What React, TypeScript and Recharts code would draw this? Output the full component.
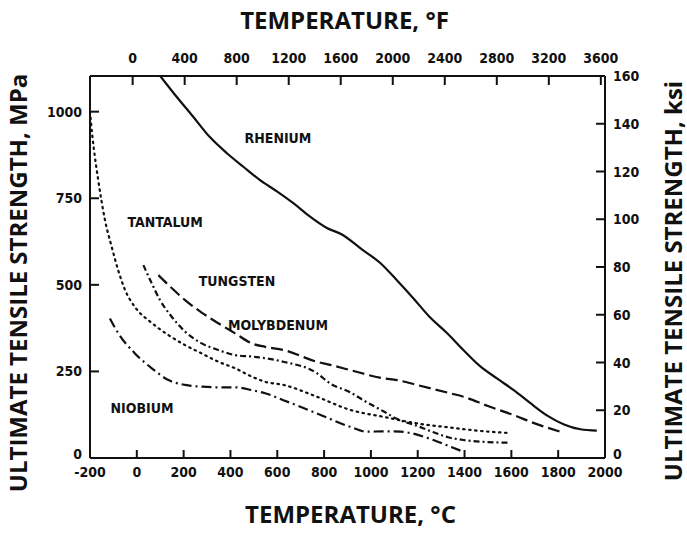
import React from 'react'
import { LineChart, Line, XAxis, YAxis, Label, ReferenceDot } from 'recharts'

// axis ticks
const tempTicksC = [-200, 0, 200, 400, 600, 800, 1000, 1200, 1400, 1600, 1800, 2000]
const tempTicksF = [0, 400, 800, 1200, 1600, 2000, 2400, 2800, 3200, 3600]
const mpaTicks = [0, 250, 500, 750, 1000]
const ksiTicks = [0, 20, 40, 60, 80, 100, 120, 140, 160]

// curves: temperature (°C) and strength (MPa)
const rheniumC = [100, 170, 240, 310, 385, 455, 525, 600, 670, 740, 810, 880, 960, 1040, 1110, 1180, 1250, 1325, 1395, 1465, 1540, 1610, 1680, 1750, 1825, 1895, 1965]
const rheniumMPa = [1103, 1043, 986, 928, 880, 841, 803, 769, 735, 697, 665, 644, 603, 563, 514, 462, 408, 361, 312, 266, 229, 196, 159, 124, 97, 83, 79]

const tantalumC = [-200, -190, -179, -165, -136, -107, -80, -50, -8, 64, 135, 206, 277, 348, 420, 491, 548, 626, 769, 911, 1053, 1196, 1338, 1470, 1595]
const tantalumMPa = [1000, 930, 869, 803, 687, 609, 543, 485, 436, 390, 355, 326, 302, 278, 259, 235, 220, 211, 177, 139, 119, 100, 88, 78, 72]

const tungstenC = [92, 150, 206, 277, 348, 420, 491, 548, 626, 769, 826, 911, 1053, 1111, 1196, 1338, 1395, 1500, 1609, 1700, 1808]
const tungstenMPa = [528, 490, 456, 420, 389, 360, 331, 321, 312, 278, 269, 254, 230, 225, 211, 187, 177, 150, 124, 100, 76]

const molybdenumC = [28, 64, 99, 149, 206, 277, 348, 420, 491, 548, 626, 769, 826, 911, 967, 1053, 1111, 1200, 1253, 1330, 1395, 1500, 1595]
const molybdenumMPa = [557, 504, 456, 408, 365, 331, 312, 297, 293, 288, 278, 245, 215, 190, 167, 135, 113, 92, 78, 60, 52, 46, 44]

const niobiumC = [-115, -79, -8, 64, 135, 206, 277, 348, 420, 491, 548, 626, 769, 911, 982, 1050, 1125, 1267, 1338, 1395]
const niobiumMPa = [403, 360, 302, 259, 225, 211, 206, 204, 204, 196, 187, 167, 129, 90, 76, 77, 76, 52, 33, 18]

const curveLabels = [
  { name: 'RHENIUM', c: 603, mpa: 924 },
  { name: 'TANTALUM', c: 121, mpa: 681 },
  { name: 'TUNGSTEN', c: 428, mpa: 511 },
  { name: 'MOLYBDENUM', c: 603, mpa: 384 },
  { name: 'NIOBIUM', c: 22, mpa: 144 },
]

const toPoints = (cs: number[], ms: number[]) => cs.map((c, i) => ({ c, mpa: ms[i] }))
const fToC = (f: number) => ((f - 32) * 5) / 9
const cToF = (c: number) => Math.round((c * 9) / 5 + 32)

const INK = '#111'
const tickFont = {
  fontFamily: "'DejaVu Sans Condensed', 'DejaVu Sans', sans-serif",
  fontWeight: 700,
  fontSize: 14,
  fill: INK,
}
const titleFont = { fontFamily: "'Open Sans', sans-serif", fontWeight: 700, fontSize: 24, fill: INK }
const sideTitleFont = { ...titleFont, fontSize: 24 }
const nameFont = {
  fontFamily: "'DejaVu Sans Condensed', 'DejaVu Sans', sans-serif",
  fontWeight: 700,
  fontSize: 14,
  fill: INK,
}

// ticks are drawn inward, as on the original plot
function BottomTick({ x, y, payload }: any) {
  return (
    <g>
      <line x1={x} y1={y} x2={x} y2={y - 8} stroke={INK} strokeWidth={2} />
      <text x={x} y={y + 19} textAnchor="middle" {...tickFont}>{payload.value}</text>
    </g>
  )
}

function TopTick({ x, y, payload }: any) {
  return (
    <g>
      <line x1={x} y1={y} x2={x} y2={y + 9} stroke={INK} strokeWidth={2} />
      <text x={x} y={y - 13} textAnchor="middle" {...tickFont}>{cToF(payload.value)}</text>
    </g>
  )
}

function LeftTick({ x, y, payload }: any) {
  const lift = payload.value === 0 ? -4 : 0
  return (
    <g>
      <line x1={x} y1={y} x2={x + 9} y2={y} stroke={INK} strokeWidth={2} />
      <text x={x - 8} y={y + 5 + lift} textAnchor="end" {...tickFont}>{payload.value}</text>
    </g>
  )
}

function RightTick({ x, y, payload }: any) {
  const lift = payload.value === 0 ? -4 : 0
  return (
    <g>
      <line x1={x} y1={y} x2={x - 9} y2={y} stroke={INK} strokeWidth={2} />
      <text x={x + 8} y={y + 5 + lift} textAnchor="start" {...tickFont}>{payload.value}</text>
    </g>
  )
}

const axisLine = { stroke: INK, strokeWidth: 2 }

export default function App() {
  return (
    <div style={{ position: 'absolute', left: 0, top: 0, background: '#fff' }}>
      <LineChart width={687} height={534} margin={{ top: 0, right: 0, bottom: 0, left: 0 }}>
        <XAxis
          xAxisId="c"
          dataKey="c"
          type="number"
          domain={[-200, 2000]}
          allowDataOverflow
          ticks={tempTicksC}
          height={76}
          tickSize={0}
          tickMargin={0}
          tickLine={false}
          axisLine={axisLine}
          tick={<BottomTick />}
          interval={0}
        >
          <Label
            content={(p: any) => (
              <text x={p.viewBox.x + p.viewBox.width / 2 + 3} y={p.viewBox.y + p.viewBox.height - 11} textAnchor="middle" {...titleFont}>
                TEMPERATURE, °C
              </text>
            )}
          />
        </XAxis>
        {/* °F scale on top, same °C domain so it lines up with the bottom axis */}
        <XAxis
          xAxisId="top"
          dataKey="c"
          orientation="top"
          type="number"
          domain={[-200, 2000]}
          allowDataOverflow
          ticks={tempTicksF.map(fToC)}
          height={76}
          tickSize={0}
          tickMargin={0}
          tickLine={false}
          axisLine={axisLine}
          tick={<TopTick />}
          interval={0}
        >
          <Label
            content={(p: any) => (
              <text x={p.viewBox.x + p.viewBox.width / 2 - 3} y={p.viewBox.y + 29} textAnchor="middle" {...titleFont}>
                TEMPERATURE, °F
              </text>
            )}
          />
        </XAxis>
        <YAxis
          yAxisId="mpa"
          type="number"
          domain={[0, 1103]}
          allowDataOverflow
          ticks={mpaTicks}
          width={90}
          tickSize={0}
          tickMargin={0}
          tickLine={false}
          axisLine={axisLine}
          tick={<LeftTick />}
          interval={0}
        >
          <Label
            content={(p: any) => (
              <text
                transform={`translate(${p.viewBox.x + 17},${p.viewBox.y + p.viewBox.height / 2 + 16}) rotate(-90)`}
                textAnchor="middle"
                dominantBaseline="central"
                {...sideTitleFont}
              >
                ULTIMATE TENSILE STRENGTH, MPa
              </text>
            )}
          />
        </YAxis>
        <YAxis
          yAxisId="ksi"
          orientation="right"
          type="number"
          domain={[0, 160]}
          allowDataOverflow
          ticks={ksiTicks}
          width={82}
          tickSize={0}
          tickMargin={0}
          tickLine={false}
          axisLine={axisLine}
          tick={<RightTick />}
          interval={0}
        >
          <Label
            content={(p: any) => (
              <text
                transform={`translate(${p.viewBox.x + 67},${p.viewBox.y + p.viewBox.height / 2 + 14}) rotate(-90)`}
                textAnchor="middle"
                dominantBaseline="central"
                {...sideTitleFont}
              >
                ULTIMATE TENSILE STRENGTH, ksi
              </text>
            )}
          />
        </YAxis>

        <Line xAxisId="top" yAxisId="mpa" data={toPoints(rheniumC, rheniumMPa)} dataKey="mpa" type="monotone"
          stroke={INK} strokeWidth={2.2} dot={false} isAnimationActive={false} />
        <Line xAxisId="c" yAxisId="mpa" data={toPoints(tantalumC, tantalumMPa)} dataKey="mpa" type="monotone"
          stroke={INK} strokeWidth={2.2} strokeDasharray="1.5 4.5" strokeLinecap="round" dot={false} isAnimationActive={false} />
        <Line xAxisId="c" yAxisId="mpa" data={toPoints(tungstenC, tungstenMPa)} dataKey="mpa" type="monotone"
          stroke={INK} strokeWidth={2.2} strokeDasharray="12 5" dot={false} isAnimationActive={false} />
        <Line xAxisId="c" yAxisId="mpa" data={toPoints(molybdenumC, molybdenumMPa)} dataKey="mpa" type="monotone"
          stroke={INK} strokeWidth={2.2} strokeDasharray="6 3 2 3" dot={false} isAnimationActive={false} />
        <Line xAxisId="c" yAxisId="mpa" data={toPoints(niobiumC, niobiumMPa)} dataKey="mpa" type="monotone"
          stroke={INK} strokeWidth={2.2} strokeDasharray="10 4 2 4" dot={false} isAnimationActive={false} />

        {curveLabels.map((l) => (
          <ReferenceDot
            key={l.name}
            xAxisId="c"
            yAxisId="mpa"
            x={l.c}
            y={l.mpa}
            r={0}
            shape={(p: any) => (
              <text x={p.cx} y={p.cy} textAnchor="middle" dominantBaseline="central" {...nameFont}>
                {l.name}
              </text>
            )}
          />
        ))}
      </LineChart>
    </div>
  )
}
